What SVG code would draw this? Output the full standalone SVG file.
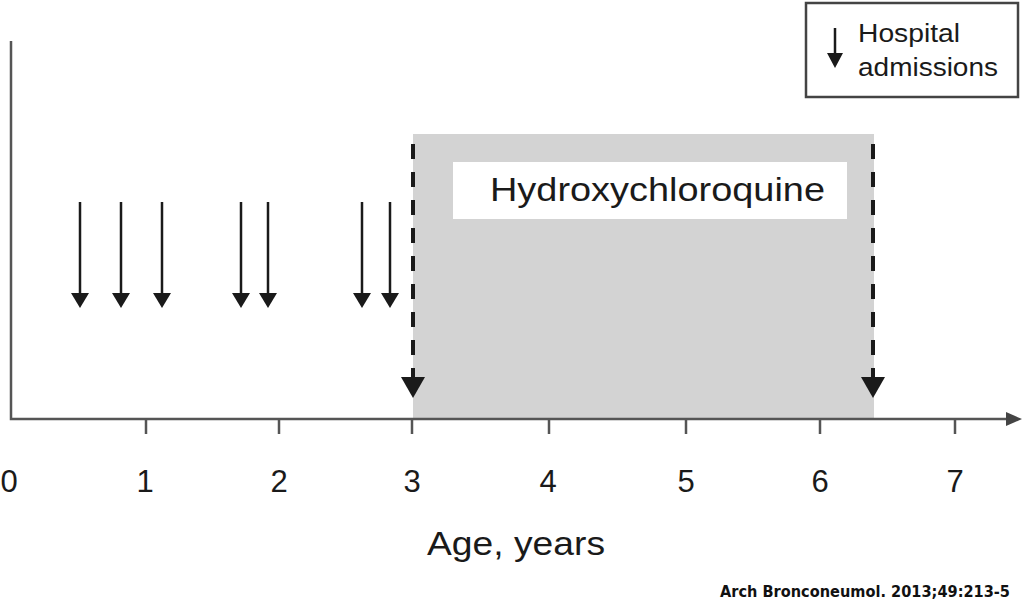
<svg xmlns="http://www.w3.org/2000/svg" width="1024" height="613" viewBox="0 0 1024 613">
<style>
.ax{stroke:#555;stroke-width:2.5;fill:none}
.tk{stroke:#555;stroke-width:2.5}
.lbl{font-family:"Liberation Sans",Arial,sans-serif;fill:#1a1a1a}
.adm{stroke:#1a1a1a;stroke-width:2.5}
.dash{stroke:#1a1a1a;stroke-width:4;stroke-dasharray:15 13}
</style>
<rect width="1024" height="613" fill="#fff"/>
<g id="treatment">
<rect x="413" y="134" width="461" height="286" fill="#d3d3d3"/>
<rect x="453" y="162" width="394" height="57" fill="#fff"/>
<text class="lbl" x="490" y="201" font-size="33" textLength="335" lengthAdjust="spacingAndGlyphs">Hydroxychloroquine</text>
</g>
<g id="axes">
<polyline class="ax" points="11,41 11,419 1008,419"/>
<polygon points="1022,419 1006,412 1006,426" fill="#444"/>
<line class="tk" x1="146" y1="419" x2="146" y2="434"/>
<line class="tk" x1="279" y1="419" x2="279" y2="434"/>
<line class="tk" x1="412" y1="419" x2="412" y2="434"/>
<line class="tk" x1="549" y1="419" x2="549" y2="434"/>
<line class="tk" x1="686" y1="419" x2="686" y2="434"/>
<line class="tk" x1="820" y1="419" x2="820" y2="434"/>
<line class="tk" x1="955" y1="419" x2="955" y2="434"/>
<g class="lbl" font-size="31" text-anchor="middle">
<text x="9" y="492">0</text>
<text x="145" y="492">1</text>
<text x="279" y="492">2</text>
<text x="412" y="492">3</text>
<text x="548" y="492">4</text>
<text x="686" y="492">5</text>
<text x="820" y="492">6</text>
<text x="955" y="492">7</text>
</g>
<text class="lbl" x="427" y="555" font-size="34" textLength="178" lengthAdjust="spacingAndGlyphs">Age, years</text>
</g>
<g id="connectors">
<g fill="#1a1a1a">
<line class="adm" x1="80" y1="202" x2="80" y2="296"/><polygon points="71,293 89,293 80,308"/>
<line class="adm" x1="121" y1="202" x2="121" y2="296"/><polygon points="112,293 130,293 121,308"/>
<line class="adm" x1="162" y1="202" x2="162" y2="296"/><polygon points="153,293 171,293 162,308"/>
<line class="adm" x1="241" y1="202" x2="241" y2="296"/><polygon points="232,293 250,293 241,308"/>
<line class="adm" x1="268" y1="202" x2="268" y2="296"/><polygon points="259,293 277,293 268,308"/>
<line class="adm" x1="362" y1="202" x2="362" y2="296"/><polygon points="353,293 371,293 362,308"/>
<line class="adm" x1="390" y1="202" x2="390" y2="296"/><polygon points="381,293 399,293 390,308"/>
</g>
<line class="dash" x1="413" y1="144" x2="413" y2="380"/>
<polygon points="401,377 425,377 413,398" fill="#1a1a1a"/>
<line class="dash" x1="873" y1="144" x2="873" y2="380"/>
<polygon points="861,377 885,377 873,398" fill="#1a1a1a"/>
</g>
<g id="legend">
<rect x="806" y="3" width="212" height="94" fill="#fff" stroke="#444" stroke-width="2.5"/>
<line class="adm" x1="835" y1="28" x2="835" y2="56"/>
<polygon points="827,53 843,53 835,68" fill="#1a1a1a"/>
<text class="lbl" x="858" y="42" font-size="26" textLength="102" lengthAdjust="spacingAndGlyphs">Hospital</text>
<text class="lbl" x="858" y="76" font-size="26" textLength="140" lengthAdjust="spacingAndGlyphs">admissions</text>
</g>
<text x="720" y="597" font-family="'DejaVu Sans',sans-serif" font-weight="bold" font-size="15" fill="#111" textLength="290" lengthAdjust="spacingAndGlyphs">Arch Bronconeumol. 2013;49:213-5</text>
</svg>
